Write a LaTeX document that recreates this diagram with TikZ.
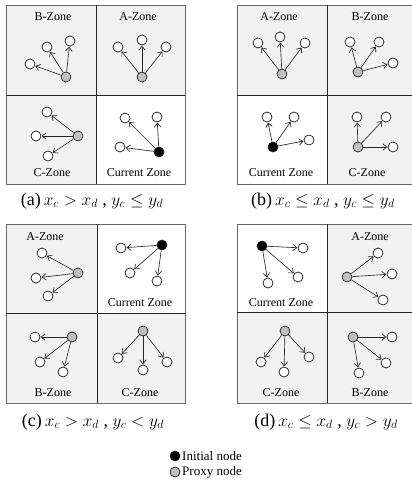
\documentclass[tikz,border=0pt]{standalone}
\usepackage{fontspec}
\setmainfont{Liberation Serif}
\usetikzlibrary{arrows.meta}
\begin{document}
\begin{tikzpicture}[x=1pt,y=-1pt,
  wn/.style={circle,draw=black!85,fill=white,line width=0.75pt,minimum size=10pt,inner sep=0pt},
  pn/.style={wn,fill=black!25},
  initn/.style={wn,fill=black},
  arr/.style={-{Straight Barb[length=4pt,width=6.5pt]},line width=0.65pt,draw=black!85,shorten >=0.3pt},
  zonefill/.style={fill=black!5},
  outer/.style={draw=black!60,line width=0.9pt},
  inner/.style={draw=black!85,line width=0.8pt},
  lbl/.style={font=\fontsize{12}{12}\selectfont,inner sep=0pt},
  captxt/.style={font=\fontsize{18}{18}\selectfont,inner sep=0pt},
  leg/.style={font=\fontsize{13}{13}\selectfont,inner sep=0pt,anchor=west},
]
\useasboundingbox (0,0) rectangle (412,482);
% ---------- panel backgrounds ----------
% (a)
\fill[zonefill] (6,5) rectangle (185,184);
\fill[white] (96,95) rectangle (185,184);
\draw[outer] (6,5) rectangle (185,184);
\draw[inner] (96,5) -- (96,184) (6,95) -- (185,95);
% (b)
\fill[zonefill] (237,5) rectangle (416,184);
\fill[white] (237,95) rectangle (327,184);
\draw[outer] (237,5) rectangle (416,184);
\draw[inner] (327,5) -- (327,184) (237,95) -- (416,95);
% (c)
\fill[zonefill] (6,224) rectangle (185,403);
\fill[white] (97,224) rectangle (185,313);
\draw[outer] (6,224) rectangle (185,403);
\draw[inner] (97,224) -- (97,403) (6,313) -- (185,313);
% (d)
\fill[zonefill] (237,224) rectangle (416,403);
\fill[white] (237,224) rectangle (327,312);
\draw[outer] (237,224) rectangle (416,403);
\draw[inner] (327,224) -- (327,403) (237,312) -- (416,312);

% ---------- panel (a) ----------
\node[lbl] (aBl) at (53,17) {B-Zone};
\node[pn] (aBp) at (66,77) {};
\node[wn] (aB1) at (47,47) {};
\node[wn] (aB2) at (70,41) {};
\node[wn] (aB3) at (30,64) {};
\node[lbl] (aAl) at (138,17) {A-Zone};
\node[pn] (aAp) at (142,77) {};
\node[wn] (aA1) at (118,47) {};
\node[wn] (aA2) at (142,40) {};
\node[wn] (aA3) at (166,47) {};
\node[lbl] (aCl) at (52,173) {C-Zone};
\node[pn] (aCp) at (78,136) {};
\node[wn] (aC1) at (47,112) {};
\node[wn] (aC2) at (36,136) {};
\node[wn] (aC3) at (48,156) {};
\node[lbl] (aIl) at (139,173) {Current Zone};
\node[initn] (aIp) at (159,152) {};
\node[wn] (aI1) at (125,118) {};
\node[wn] (aI2) at (157,117) {};
\node[wn] (aI3) at (120,147) {};

% ---------- panel (b) ----------
\node[lbl] (bAl) at (279,17) {A-Zone};
\node[pn] (bAp) at (282,74) {};
\node[wn] (bA1) at (258,43) {};
\node[wn] (bA2) at (280,37) {};
\node[wn] (bA3) at (305,43) {};
\node[lbl] (bBl) at (370,17) {B-Zone};
\node[pn] (bBp) at (358,72) {};
\node[wn] (bB1) at (350,42) {};
\node[wn] (bB2) at (379,42) {};
\node[wn] (bB3) at (393,63) {};
\node[lbl] (bIl) at (281,173) {Current Zone};
\node[initn] (bIp) at (273,147) {};
\node[wn] (bI1) at (267,117) {};
\node[wn] (bI2) at (294,117) {};
\node[wn] (bI3) at (309,140) {};
\node[lbl] (bCl) at (367,173) {C-Zone};
\node[pn] (bCp) at (358,147) {};
\node[wn] (bC1) at (357,117) {};
\node[wn] (bC2) at (386,117) {};
\node[wn] (bC3) at (393,147) {};

% ---------- panel (c) ----------
\node[lbl] (cAl) at (45,237) {A-Zone};
\node[pn] (cAp) at (78,273) {};
\node[wn] (cA1) at (42,253) {};
\node[wn] (cA2) at (36,278) {};
\node[wn] (cA3) at (48,296) {};
\node[lbl] (cIl) at (140,303) {Current Zone};
\node[initn] (cIp) at (162,245) {};
\node[wn] (cI1) at (121,248) {};
\node[wn] (cI2) at (130,273) {};
\node[wn] (cI3) at (157,281) {};
\node[lbl] (cBl) at (53,393) {B-Zone};
\node[pn] (cBp) at (72,337) {};
\node[wn] (cB1) at (35,337) {};
\node[wn] (cB2) at (40,362) {};
\node[wn] (cB3) at (63,372) {};
\node[lbl] (cCl) at (140,393) {C-Zone};
\node[pn] (cCp) at (143,331) {};
\node[wn] (cC1) at (118,358) {};
\node[wn] (cC2) at (143,370) {};
\node[wn] (cC3) at (167,362) {};

% ---------- panel (d) ----------
\node[lbl] (dIl) at (281,303) {Current Zone};
\node[initn] (dIp) at (262,246) {};
\node[wn] (dI1) at (303,248) {};
\node[wn] (dI2) at (298,277) {};
\node[wn] (dI3) at (268,283) {};
\node[lbl] (dAl) at (370,237) {A-Zone};
\node[pn] (dAp) at (347,277) {};
\node[wn] (dA1) at (378,253) {};
\node[wn] (dA2) at (392,274) {};
\node[wn] (dA3) at (383,300) {};
\node[lbl] (dCl) at (281,393) {C-Zone};
\node[pn] (dCp) at (285,331) {};
\node[wn] (dC1) at (261,362) {};
\node[wn] (dC2) at (284,372) {};
\node[wn] (dC3) at (309,357) {};
\node[lbl] (dBl) at (370,393) {B-Zone};
\node[pn] (dBp) at (353,337) {};
\node[wn] (dB1) at (392,337) {};
\node[wn] (dB2) at (386,363) {};
\node[wn] (dB3) at (359,373) {};

% ---------- arrows ----------
\foreach \p in {aB,aA,aC,aI,bA,bB,bI,bC,cA,cI,cB,cC,dI,dA,dC,dB}
  \foreach \i in {1,2,3}
    \draw[arr] (\p p) -- (\p\i);

% ---------- captions ----------
\node[captxt] (capa) at (92,201) {(a)\,$x_c > x_d$ , $y_c \le y_d$};
\node[captxt] (capb) at (323,201) {(b)\,$x_c \le x_d$ , $y_c \le y_d$};
\node[captxt] (capc) at (93,422) {(c)\,$x_c > x_d$ , $y_c < y_d$};
\node[captxt] (capd) at (326,422) {(d)\,$x_c \le x_d$ , $y_c > y_d$};

% ---------- legend ----------
\node[initn] (lgi) at (175,456) {};
\node[leg] (lgit) at (182,456) {Initial node};
\node[pn] (lgp) at (175,472) {};
\node[leg] (lgpt) at (182,472) {Proxy node};
\end{tikzpicture}
\end{document}
